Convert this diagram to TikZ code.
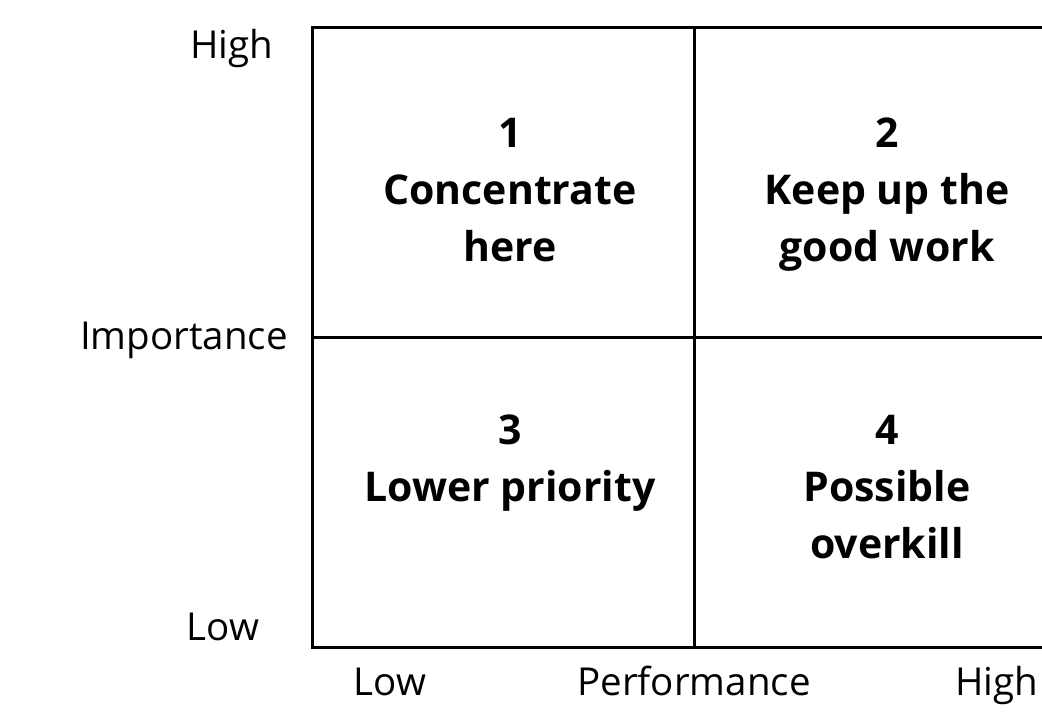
\documentclass[tikz,border=0pt]{standalone}
\usepackage{fontspec}
\setmainfont{Open Sans}
\begin{document}
\begin{tikzpicture}[x=1pt,y=-1pt]
\tikzset{
    quad/.style={%
        anchor=north, align=center, inner sep=0pt,
        font=\fontsize{41}{57}\selectfont\bfseries
        },
    axlabel/.style={%
        anchor=base, inner sep=0pt,
        font=\fontsize{38.5}{46}\selectfont
        },
    gridline/.style={%
        draw=black, line width=3pt
        },
}
\useasboundingbox (0,0) rectangle (1042,713);
%%%GRID
\coordinate (tl) at (312,27);
\coordinate (tr) at (1044,27);
\coordinate (bl) at (312,647);
\coordinate (br) at (1044,647);
\coordinate (tm) at (694,27);
\coordinate (bm) at (694,647);
\coordinate (ml) at (312,337);
\coordinate (mr) at (1044,337);
\draw[gridline] (tr) -- (tl) -- (bl) -- (br);
\draw[gridline] (tm) -- (bm);
\draw[gridline] (ml) -- (mr);
%%%QUADRANTS
\node[quad] (q1) at (510,118) {1\\Concentrate\\here};
\node[quad] (q2) at (887,118) {2\\Keep up the\\good work};
\node[quad] (q3) at (510,415) {3\\Lower priority};
\node[quad] (q4) at (887,415) {4\\Possible\\overkill};
%%%IMPORTANCE AXIS
\node[axlabel] (imphigh) at (232,58) {High};
\node[axlabel] (imp) at (184,349) {Importance};
\node[axlabel] (implow) at (223,640) {Low};
%%%PERFORMANCE AXIS
\node[axlabel] (perflow) at (390,695) {Low};
\node[axlabel] (perf) at (694,695) {Performance};
\node[axlabel] (perfhigh) at (997,695) {High};
\end{tikzpicture}
\end{document}
